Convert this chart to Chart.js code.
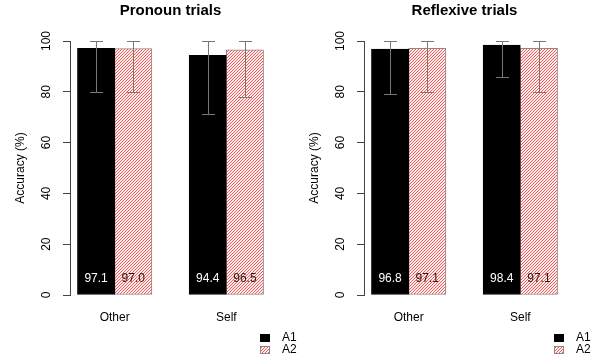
<!DOCTYPE html>
<html>
<head>
<meta charset="utf-8">
<script src="https://cdn.jsdelivr.net/npm/chart.js@4"></script>
<style>
  body { margin: 0; background: #fff; width: 598px; height: 358px; overflow: hidden; position: relative; }
  canvas { position: absolute; top: 0; }
</style>
</head>
<body>
<canvas id="pronounChart" width="299" height="358" style="left:0"></canvas>
<canvas id="reflexiveChart" width="299" height="358" style="left:294px"></canvas>
<script>
// data
const categories = ['Other', 'Self'];
const seriesNames = ['A1', 'A2'];
const panelTitles = ['Pronoun trials', 'Reflexive trials'];
const yTitle = 'Accuracy (%)';

const pronounA1 = [97.1, 94.4];
const pronounA2 = [97.0, 96.5];
const pronounA1Low = [80.0, 71.4];
const pronounA2Low = [80.0, 78.1];
const pronounA1High = [100, 100];
const pronounA2High = [100, 100];

const reflexiveA1 = [96.8, 98.4];
const reflexiveA2 = [97.1, 97.1];
const reflexiveA1Low = [79.1, 85.8];
const reflexiveA2Low = [80.0, 80.0];
const reflexiveA1High = [100, 100];
const reflexiveA2High = [100, 100];

const FONT = '"Liberation Sans", Arial, sans-serif';

function makeHatch() {
  const s = 3;
  const c = document.createElement('canvas');
  c.width = s; c.height = s;
  const g = c.getContext('2d');
  g.fillStyle = '#fff0f0';
  g.fillRect(0, 0, s, s);
  g.strokeStyle = '#ff5656';
  g.lineWidth = 1;
  g.beginPath();
  g.moveTo(-1, s + 1); g.lineTo(s + 1, -1);
  g.moveTo(-1, 1); g.lineTo(1, -1);
  g.moveTo(s - 1, s + 1); g.lineTo(s + 1, s - 1);
  g.stroke();
  return g.createPattern(c, 'repeat');
}
const hatch = makeHatch();

// barplot layout: group i holds bars at 1+3i .. 3+3i
const barX = (i, s) => 1.5 + 3 * i + s;

// error bars, value labels and legend
const extras = {
  id: 'extras',
  afterDatasetsDraw(chart) {
    const { ctx, scales: { y } } = chart;
    ctx.save();
    chart.data.datasets.forEach((ds, di) => {
      const meta = chart.getDatasetMeta(di);
      meta.data.forEach((bar, i) => {
        const cx = Math.round(bar.x) + 0.5;
        const lo = Math.round(y.getPixelForValue(ds.errLow[i])) + 0.5;
        const hi = Math.round(y.getPixelForValue(ds.errHigh[i])) + 0.5;
        ctx.strokeStyle = '#777';
        ctx.lineWidth = 1;
        ctx.beginPath();
        ctx.moveTo(cx, lo); ctx.lineTo(cx, hi);
        ctx.moveTo(cx - 6.5, lo); ctx.lineTo(cx + 6.5, lo);
        ctx.moveTo(cx - 6.5, hi); ctx.lineTo(cx + 6.5, hi);
        ctx.stroke();

        ctx.fillStyle = di === 0 ? '#fff' : '#222';
        ctx.font = '12px ' + FONT;
        ctx.textAlign = 'center';
        ctx.textBaseline = 'middle';
        ctx.fillText(ds.data[i].y.toFixed(1), bar.x, bar.base - 16);
      });
    });
    ctx.restore();
  },
  afterDraw(chart) {
    const { ctx, chartArea } = chart;
    ctx.save();
    ctx.font = '12px ' + FONT;
    ctx.textAlign = 'left';
    ctx.textBaseline = 'middle';
    chart.data.datasets.forEach((ds, di) => {
      const bx = chartArea.right - 11;
      const by = 338 + di * 12;
      ctx.fillStyle = ds.backgroundColor;
      ctx.fillRect(bx, by - 4, 10, 8);
      ctx.strokeStyle = ds.borderColor;
      ctx.lineWidth = 1;
      ctx.strokeRect(bx + 0.5, by - 3.5, 9, 7);
      ctx.fillStyle = '#000';
      ctx.fillText(ds.label, bx + 22, by);
    });
    ctx.restore();
  }
};

function buildChart(id, title, a1, a2, a1Low, a2Low, a1High, a2High) {
  const series = [a1, a2];
  const lows = [a1Low, a2Low];
  const highs = [a1High, a2High];
  const fills = ['#000', hatch];
  const borders = ['#000', '#888'];
  return new Chart(document.getElementById(id), {
    type: 'bar',
    data: {
      datasets: seriesNames.map((name, s) => ({
        label: name,
        data: series[s].map((v, i) => ({ x: barX(i, s), y: v })),
        errLow: lows[s],
        errHigh: highs[s],
        backgroundColor: fills[s],
        borderColor: borders[s],
        borderWidth: 1,
        borderSkipped: false,
        grouped: false,
        barPercentage: 1,
        categoryPercentage: 1
      }))
    },
    options: {
      responsive: false,
      animation: false,
      devicePixelRatio: 1,
      layout: { padding: { left: 0, right: 28, top: 0, bottom: 0 } },
      plugins: {
        legend: { display: false },
        tooltip: { enabled: false },
        title: {
          display: true,
          text: title,
          fullSize: false,
          color: '#000',
          font: { family: FONT, size: 15, weight: 'bold' },
          padding: { top: 2, bottom: 21 }
        }
      },
      scales: {
        x: {
          type: 'linear',
          offset: false,
          min: 0.8,
          max: 6.2,
          grid: { display: false, drawTicks: false, offset: false },
          border: { display: false },
          ticks: {
            autoSkip: false,
            padding: 15,
            color: '#000',
            font: { family: FONT, size: 12 },
            callback: (v, i) => categories[i]
          },
          afterBuildTicks: (s) => { s.ticks = categories.map((c, i) => ({ value: 2 + 3 * i })); },
          afterFit: (s) => { s.height = 63; }
        },
        y: {
          min: 0,
          max: 100,
          ticks: {
            stepSize: 20,
            minRotation: 90,
            maxRotation: 90,
            crossAlign: 'center',
            padding: 6,
            color: '#000',
            font: { family: FONT, size: 12 }
          },
          grid: { drawOnChartArea: false, drawTicks: true, tickLength: 7, color: '#444' },
          border: { display: true, color: '#444' },
          title: {
            display: true,
            text: yTitle,
            color: '#000',
            font: { family: FONT, size: 12 },
            padding: { top: 13, bottom: 0 }
          },
          afterFit: (s) => { s.width = 70; }
        }
      }
    },
    plugins: [extras]
  });
}

buildChart('pronounChart', panelTitles[0], pronounA1, pronounA2, pronounA1Low, pronounA2Low, pronounA1High, pronounA2High);
buildChart('reflexiveChart', panelTitles[1], reflexiveA1, reflexiveA2, reflexiveA1Low, reflexiveA2Low, reflexiveA1High, reflexiveA2High);
</script>
</body>
</html>
